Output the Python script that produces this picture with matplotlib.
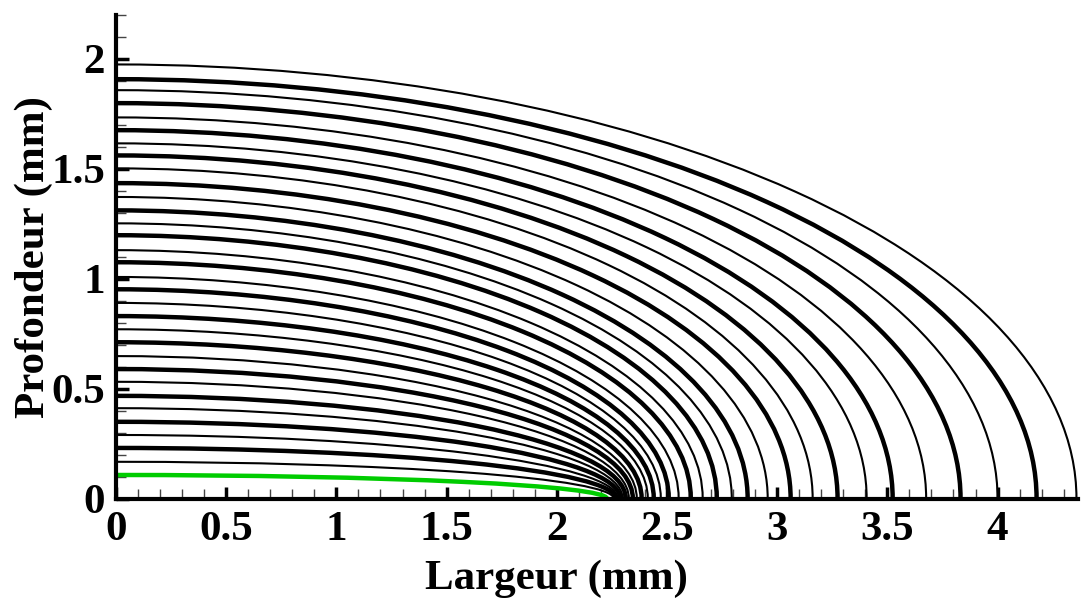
import matplotlib
matplotlib.use("Agg")
import matplotlib.pyplot as plt
from matplotlib.patches import Arc
from matplotlib.ticker import MultipleLocator

# Depth (at x = 0) and width (at y = 0) of each front, outermost first (mm)
depths = [1.975, 1.908, 1.858, 1.799, 1.734, 1.676, 1.616, 1.561, 1.502, 1.435,
          1.372, 1.311, 1.252, 1.198, 1.130, 1.075, 1.008, 0.952, 0.890, 0.830,
          0.770, 0.711, 0.648, 0.589, 0.531, 0.467, 0.411, 0.349, 0.289, 0.230,
          0.167]
widths = [4.358, 4.177, 4.000, 3.832, 3.676, 3.524, 3.406, 3.274, 3.161, 3.061,
          2.957, 2.866, 2.794, 2.726, 2.662, 2.608, 2.553, 2.508, 2.472, 2.440,
          2.413, 2.385, 2.363, 2.345, 2.327, 2.313, 2.299, 2.288, 2.277, 2.268,
          2.258]
green_depth = 0.107
green_width = 2.227

x_ticks = [0, 0.5, 1, 1.5, 2, 2.5, 3, 3.5, 4]
x_tick_labels = ["0", "0.5", "1", "1.5", "2", "2.5", "3", "3.5", "4"]
y_ticks = [0, 0.5, 1, 1.5, 2]
y_tick_labels = ["0", "0.5", "1", "1.5", "2"]

FONT = "Liberation Serif"

fig = plt.figure(figsize=(10.81, 6.0), dpi=100)
ax = fig.add_axes([116 / 1081, 1 - 498.5 / 600, 962 / 1081, 483.5 / 600])

for i, (d, w) in enumerate(zip(depths, widths)):
    lw = 3.2 if i % 2 == 1 else 1.5
    ax.add_patch(Arc((0, 0), 2 * w, 2 * d, theta1=0, theta2=90,
                     color="black", lw=lw, zorder=2))
ax.add_patch(Arc((0, 0), 2 * green_width, 2 * green_depth, theta1=0, theta2=90,
                 color="#00cc00", lw=3.2, zorder=3))

ax.set_xlim(0, 4.365)
ax.set_ylim(0, 2.2)

for s in ["top", "right"]:
    ax.spines[s].set_visible(False)
for s in ["left", "bottom"]:
    ax.spines[s].set_linewidth(3)
    ax.spines[s].set_zorder(5)

ax.set_xticks(x_ticks)
ax.set_xticklabels(x_tick_labels)
ax.set_yticks(y_ticks)
ax.set_yticklabels(y_tick_labels)
ax.xaxis.set_minor_locator(MultipleLocator(0.1))
ax.yaxis.set_minor_locator(MultipleLocator(0.1))
ax.tick_params(which="major", direction="in", length=9, width=2.5, color="black")
ax.tick_params(which="minor", direction="in", length=7, width=1, color="#444444")
ax.tick_params(axis="x", which="major", pad=9)
ax.tick_params(axis="y", which="major", pad=8)

for lab in ax.get_xticklabels() + ax.get_yticklabels():
    lab.set_fontfamily(FONT)
    lab.set_fontweight("bold")
    lab.set_fontsize(31)

ax.set_xlabel("Largeur (mm)", fontfamily=FONT, fontweight="bold", fontsize=31)
ax.set_ylabel("Profondeur (mm)", fontfamily=FONT, fontweight="bold", fontsize=31)
ax.xaxis.set_label_coords(0.458, -0.127)
ax.yaxis.set_label_coords(-0.065, 0.50)

fig.savefig("out.png", dpi=100)
